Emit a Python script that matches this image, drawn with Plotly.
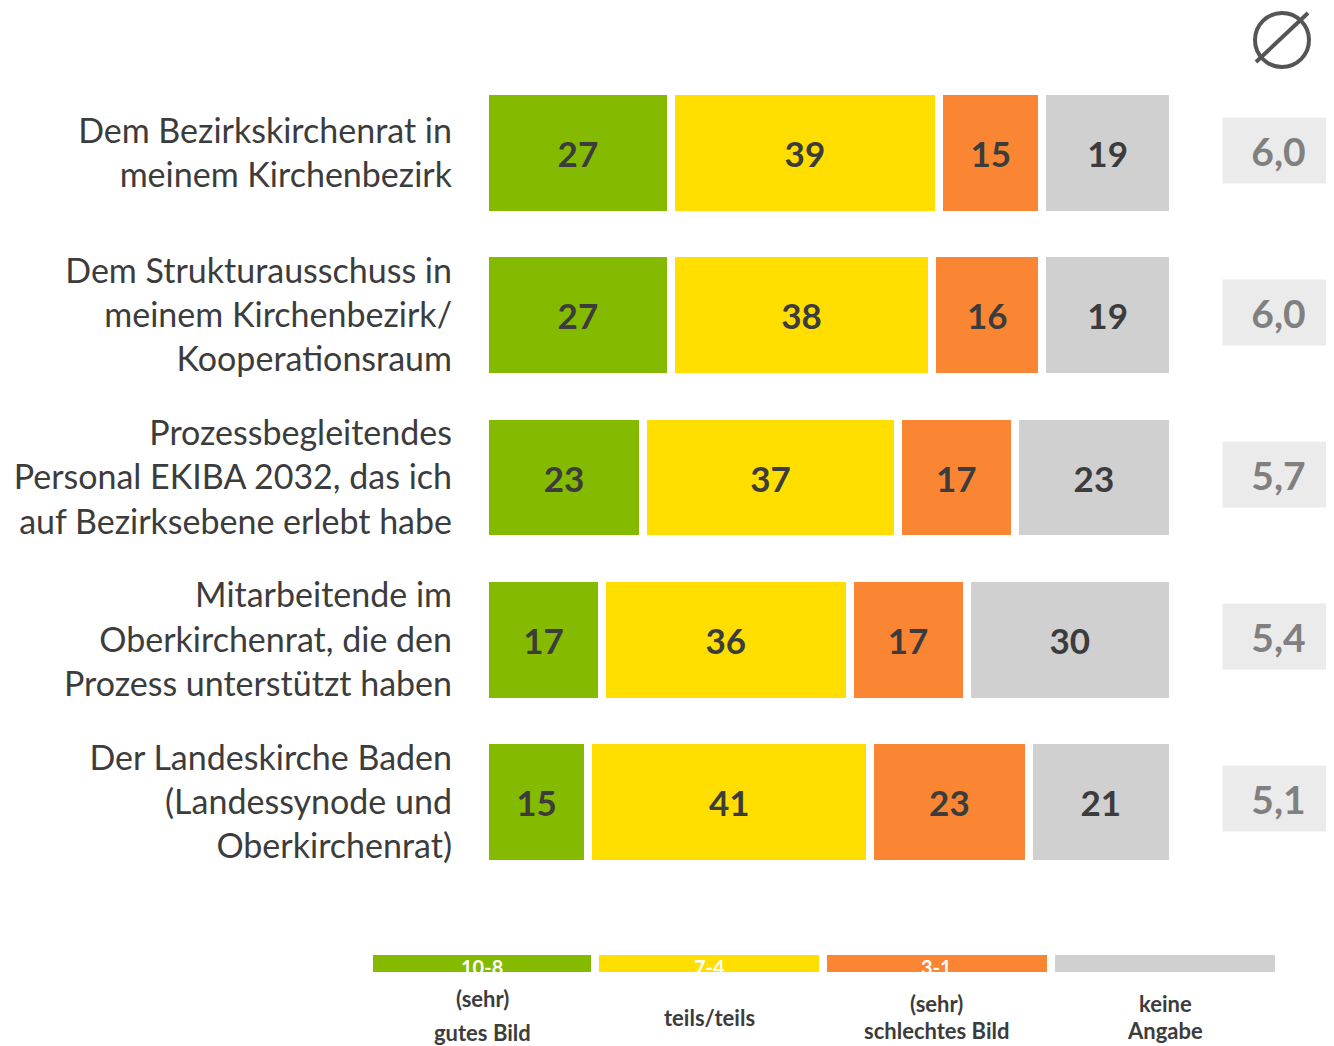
import plotly.graph_objects as go

W, H = 1334, 1046
OFF = 8  # page body margin

categories = [
    "Dem Bezirkskirchenrat in<br>meinem Kirchenbezirk",
    "Dem Strukturausschuss in<br>meinem Kirchenbezirk/<br>Kooperationsraum",
    "Prozessbegleitendes<br>Personal EKIBA 2032, das ich<br>auf Bezirksebene erlebt habe",
    "Mitarbeitende im<br>Oberkirchenrat, die den<br>Prozess unterstützt haben",
    "Der Landeskirche Baden<br>(Landessynode und<br>Oberkirchenrat)",
]
good = [27, 27, 23, 17, 15]
neutral = [39, 38, 37, 36, 41]
bad = [15, 16, 17, 17, 23]
no_answer = [19, 19, 23, 30, 21]
means = ["6,0", "6,0", "5,7", "5,4", "5,1"]

series_names = ["(sehr)", "teils/teils", "(sehr)", "keine"]
series_names2 = ["gutes Bild", "", "schlechtes Bild", "Angabe"]
scale_labels = ["10-8", "7-4", "3-1", ""]
colors = ["#84BA00", "#FFDE00", "#FA8532", "#D0D0D0"]
series = [good, neutral, bad, no_answer]

TXT = "#3C3C3C"
FONT = "Lato, 'Open Sans', sans-serif"

fig = go.Figure()
for name, vals, col in zip(series_names, series, colors):
    fig.add_trace(go.Bar(
        y=categories, x=vals, orientation="h", name=name,
        marker=dict(color=col, line=dict(color="white", width=8)),
        text=[str(v) for v in vals], textposition="inside",
        insidetextanchor="middle", constraintext="none",
        textfont=dict(family=FONT, size=35, color=TXT, weight="bold"),
        hoverinfo="skip", showlegend=False,
    ))

FW, FH = W - OFF, H - OFF


def px(x):
    return (x - OFF) / FW


def py(y):
    return 1 - (y - OFF) / FH


x0, x1 = 485, 1173
ytop, ybot = 72, 883

fig.update_layout(
    width=FW, height=FH, autosize=False,
    margin=dict(l=0, r=0, t=0, b=0),
    paper_bgcolor="white", plot_bgcolor="white",
    barmode="stack", bargap=0.236,
    font=dict(family=FONT, color=TXT),
    xaxis=dict(domain=[px(x0), px(x1)], range=[0, 100], visible=False, fixedrange=True),
    yaxis=dict(domain=[py(ybot), py(ytop)], autorange="reversed",
               showgrid=False, showline=False, zeroline=False,
               ticks="", ticklabelstandoff=32,
               tickfont=dict(family=FONT, size=34, color=TXT)),
)

annotations = []
# mean boxes
for cat, m in zip(categories, means):
    annotations.append(dict(
        x=px(1278.5), xref="paper", y=cat, yref="y", yshift=3,
        text=m, showarrow=False, width=111, height=65,
        bgcolor="#EBEBEB", borderpad=0, xanchor="center", yanchor="middle",
        font=dict(family=FONT, size=39, color="#808080", weight="bold"),
    ))

# legend
leg_x = [(373, 591), (599, 819), (827, 1047), (1055, 1275)]
line1_y = [998, 1017, 1003, 1003]
line2_y = [1032, None, 1030, 1030]
shapes = []
for i, ((a, b), col, sl) in enumerate(zip(leg_x, colors, scale_labels)):
    cx = px((a + b) / 2)
    shapes.append(dict(type="rect", xref="paper", yref="paper",
                       x0=px(a), x1=px(b), y0=py(972), y1=py(955),
                       fillcolor=col, line=dict(width=0), layer="below"))
    if sl:
        annotations.append(dict(
            x=cx, y=py(967), xref="paper", yref="paper",
            text=f"<b>{sl}</b>", showarrow=False, xanchor="center", yanchor="middle",
            font=dict(family=FONT, size=20, color="white"),
        ))
    annotations.append(dict(
        x=cx, y=py(line1_y[i]), xref="paper", yref="paper",
        text=f"<b>{series_names[i]}</b>", showarrow=False, xanchor="center", yanchor="middle",
        font=dict(family=FONT, size=22, color=TXT),
    ))
    if series_names2[i]:
        annotations.append(dict(
            x=cx, y=py(line2_y[i]), xref="paper", yref="paper",
            text=f"<b>{series_names2[i]}</b>", showarrow=False, xanchor="center", yanchor="middle",
            font=dict(family=FONT, size=22, color=TXT),
        ))

# average symbol
shapes.append(dict(type="circle", xref="paper", yref="paper",
                   x0=px(1255), x1=px(1309), y0=py(67), y1=py(13),
                   line=dict(color="#555555", width=4)))
shapes.append(dict(type="line", xref="paper", yref="paper",
                   x0=px(1256), y0=py(62), x1=px(1308), y1=py(13),
                   line=dict(color="#555555", width=4)))

fig.update_layout(annotations=annotations, shapes=shapes)
fig.write_html("out.html")
